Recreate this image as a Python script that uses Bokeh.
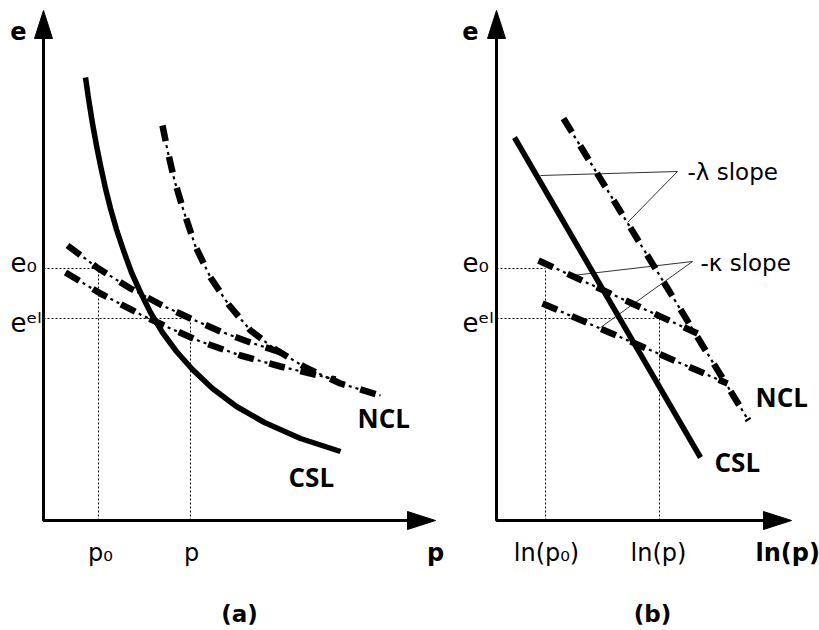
from bokeh.plotting import figure
from bokeh.models import Range1d
from bokeh.layouts import row
from bokeh.core.properties import value
from bokeh.embed import file_html
from bokeh.resources import INLINE

# ---------------- data (schematic units) ----------------
# panel (a): e versus p
csl_a_p = [1.05, 1.125, 1.225, 1.325, 1.425, 1.55, 1.675, 1.825, 2.0, 2.2, 2.425, 2.675,
           2.975, 3.325, 3.725, 4.225, 4.825, 5.525, 6.425, 7.425]
csl_a_e = [11.075, 10.55, 9.925, 9.375, 8.875, 8.3, 7.8, 7.275, 6.75, 6.2, 5.7, 5.2,
           4.7, 4.225, 3.775, 3.3, 2.85, 2.45, 2.05, 1.725]
ncl_a_p = [2.975, 3.1, 3.275, 3.5, 3.8, 4.175, 4.625, 5.175, 5.8, 6.55, 7.425, 8.425]
ncl_a_e = [9.875, 9.25, 8.5, 7.75, 6.85, 6.075, 5.4, 4.75, 4.275, 3.825, 3.425, 3.125]
url1_a_p = [0.6, 1.375, 2.175, 2.925, 3.675, 4.425, 5.175, 6.175]
url1_a_e = [6.875, 6.3, 5.8, 5.4, 5.05, 4.725, 4.45, 4.125]
url2_a_p = [0.55, 1.425, 2.425, 3.175, 3.925, 4.925, 5.925, 7.3]
url2_a_e = [6.2, 5.675, 5.15, 4.8, 4.475, 4.125, 3.85, 3.525]
p0_a, p_a = 1.375, 3.675
e0, eel = 6.3, 5.05

# panel (b): e versus ln(p)
csl_b_x = [0.45, 5.1]
csl_b_e = [9.575, 1.575]
ncl_b_x = [1.675, 6.3]
ncl_b_e = [10.05, 2.5]
url1_b_x = [1.05, 5.025]
url1_b_e = [6.5, 4.675]
url2_b_x = [1.15, 5.775]
url2_b_e = [5.425, 3.425]
lnp0_b, lnp_b = 1.225, 4.075
lam_lead_x = [1.1, 4.525, 3.275]
lam_lead_e = [8.625, 8.725, 7.45]
kap_lead_x = [1.9, 4.9, 2.6]
kap_lead_e = [6.125, 6.475, 4.825]

# axes extents
a_xmax, a_ymax = 9.8, 12.75
b_xmax, b_ymax = 7.375, 12.75
head_len, head_half = 0.7, 0.225

# tick labels / texts
ticks_a = ["p\u2080", "p"]
ticks_b = ["ln(p\u2080)", "ln(p)"]
elabels = ["e\u2080", "e\u1d49\u02e1"]

FONT = "DejaVu Sans"
H = 628


def make_fig(width, x0, x1):
    f = figure(width=width, height=H, x_range=Range1d(x0, x1), y_range=Range1d(-2.7, 13.0),
               output_backend="svg", toolbar_location=None, min_border=0,
               x_axis_location=None, y_axis_location=None)
    f.outline_line_color = None
    f.grid.grid_line_color = None
    f.background_fill_color = "white"
    f.border_fill_color = "white"
    return f


def axes(f, xmax, ymax):
    f.line([0, 0, xmax - 0.3], [ymax - 0.3, 0, 0], line_color="black", line_width=3)
    f.patches([[-head_half, 0, head_half], [xmax - head_len, xmax, xmax - head_len]],
              [[ymax - head_len, ymax, ymax - head_len], [head_half, 0, -head_half]],
              fill_color="black", line_color="black")


def dashdot(f, xs, ys):
    f.line(xs, ys, line_color="black", line_width=6.5, line_dash="16 16", line_cap="butt",
           line_join="round")
    f.line(xs, ys, line_color="black", line_width=2.2, line_dash="3 4 3 22", line_dash_offset=12,
           line_cap="butt", line_join="round")


def guides(f, x0v, x1v):
    f.multi_line([[0, x0v], [0, x1v], [x0v, x0v], [x1v, x1v]],
                 [[e0, e0], [eel, eel], [0, e0], [0, eel]],
                 line_color="black", line_width=1, line_dash="2 2")


def txt(f, x, y, s, size, bold=False, align="center", baseline="alphabetic", font=FONT):
    f.text([x], [y], text=[s], text_font=value(font), text_font_size=f"{size}px",
           text_font_style="bold" if bold else "normal", text_align=align,
           text_baseline=baseline, text_color="black")


# ---------------- panel (a) ----------------
pa = make_fig(448, -1.075, 10.125)
guides(pa, p0_a, p_a)
axes(pa, a_xmax, a_ymax)
dashdot(pa, ncl_a_p, ncl_a_e)
dashdot(pa, url1_a_p, url1_a_e)
dashdot(pa, url2_a_p, url2_a_e)
pa.line(csl_a_p, csl_a_e, line_color="black", line_width=5.5, line_join="round")

txt(pa, -0.625, 12.25, "e", 24, bold=True)
txt(pa, 9.8, -0.8, "p", 24, bold=True)
txt(pa, p0_a + 0.05, -0.8, ticks_a[0], 24)
txt(pa, p_a + 0.025, -0.8, ticks_a[1], 24)
txt(pa, 4.9, -2.325, "(a)", 23, bold=True)
txt(pa, -0.825, 6.45, elabels[0], 26, align="left")
txt(pa, -0.825, 4.95, elabels[1], 26, align="left")
txt(pa, 7.85, 2.575, "NCL", 26, bold=True, align="left", baseline="middle", font="Open Sans")
txt(pa, 6.125, 1.1, "CSL", 26, bold=True, align="left", baseline="middle", font="Open Sans")

# ---------------- panel (b) ----------------
pb = make_fig(371, -1.2, 8.075)
guides(pb, lnp0_b, lnp_b)
axes(pb, b_xmax, b_ymax)
pb.line(lam_lead_x, lam_lead_e, line_color="#333333", line_width=1)
pb.line(kap_lead_x, kap_lead_e, line_color="#333333", line_width=1)
dashdot(pb, ncl_b_x, ncl_b_e)
dashdot(pb, url1_b_x, url1_b_e)
dashdot(pb, url2_b_x, url2_b_e)
pb.line(csl_b_x, csl_b_e, line_color="black", line_width=5.5)

txt(pb, -0.65, 12.25, "e", 24, bold=True)
txt(pb, 7.28, -0.8, "ln(p)", 24, bold=True)
txt(pb, lnp0_b + 0.025, -0.8, ticks_b[0], 24)
txt(pb, lnp_b - 0.025, -0.8, ticks_b[1], 24)
txt(pb, 3.9, -2.325, "(b)", 23, bold=True)
txt(pb, -0.85, 6.45, elabels[0], 26, align="left")
txt(pb, -0.85, 4.95, elabels[1], 26, align="left")
txt(pb, 6.475, 3.1, "NCL", 26, bold=True, align="left", baseline="middle", font="Open Sans")
txt(pb, 5.45, 1.475, "CSL", 26, bold=True, align="left", baseline="middle", font="Open Sans")
txt(pb, 4.775, 8.725, "-\u03bb slope", 23, align="left", baseline="middle")
txt(pb, 5.1, 6.45, "-\u03ba slope", 23, align="left", baseline="middle")

layout = row(pa, pb)
open("out.html", "w").write(file_html(layout, INLINE))
